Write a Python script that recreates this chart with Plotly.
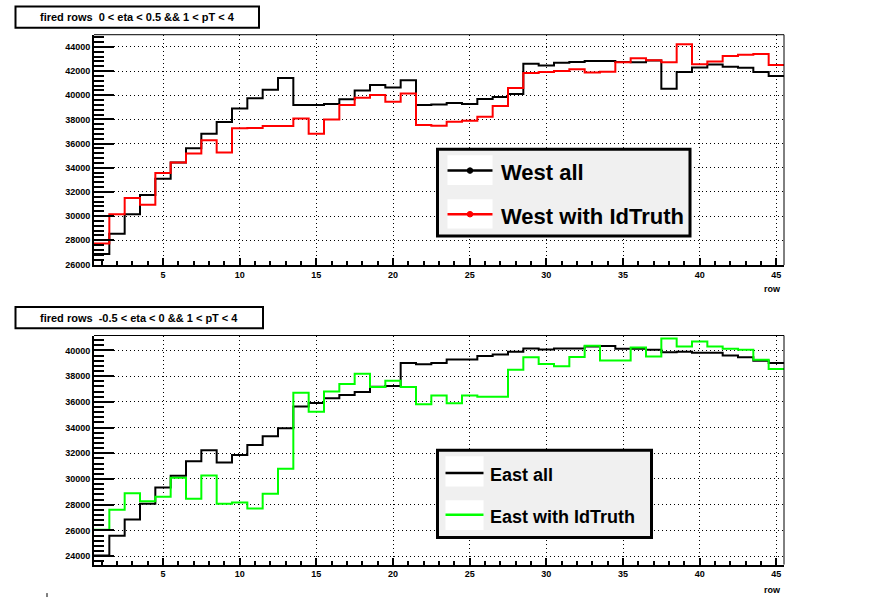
import plotly.graph_objects as go

rows = list(range(1, 46))

west_all = [26860, 28540, 30160, 31755, 33100, 34435, 35620, 36816, 37780, 38900,
            39755, 40462, 41430, 39200, 39200, 39280, 39670, 40400, 40840, 40650,
            41250, 39190, 39240, 39350, 39270, 39700, 39860, 40110, 42600, 42460,
            42680, 42760, 42840, 42840, 42760, 42730, 42870, 40530, 41920, 42300,
            42540, 42350, 42270, 41920, 41590]
west_idtruth = [27730, 30160, 31510, 30940, 33565, 34435, 35180, 36272, 35270, 37266,
                37300, 37460, 37460, 38080, 36820, 38000, 39200, 39800, 40030, 39460,
                40140, 37550, 37480, 37800, 37890, 38220, 39120, 40600, 41840, 41920,
                42000, 42160, 41890, 41950, 42730, 43060, 42900, 42730, 44220, 42570,
                42790, 43250, 43360, 43410, 42510]
east_all = [24050, 25590, 26840, 28080, 29330, 30260, 31380, 32230, 31280, 31870,
            32650, 33330, 33950, 35640, 35920, 36280, 36540, 36770, 37180, 37240,
            39030, 38920, 39030, 39300, 39300, 39560, 39690, 39900, 40150, 40080,
            40150, 40150, 40310, 40340, 40130, 40130, 40050, 39850, 39900, 39820,
            39820, 39610, 39460, 39200, 39020]
east_idtruth = [26050, 27610, 28900, 28260, 28620, 30100, 28470, 30280, 28080, 28180,
                27700, 28850, 30800, 36700, 35230, 36800, 37390, 38180, 37160, 37650,
                37160, 35820, 36490, 35900, 36490, 36390, 36390, 38490, 39460, 38950,
                38770, 39480, 40360, 39220, 39220, 40230, 39530, 40930, 40310, 40700,
                40310, 40130, 40050, 39270, 38550]

top_title = "fired rows\u00a0\u00a00 < eta < 0.5 && 1 < pT < 4"
bot_title = "fired rows\u00a0\u00a0-0.5 < eta < 0 && 1 < pT < 4"
top_names = ["West all", "West with IdTruth"]
bot_names = ["East all", "East with IdTruth"]
x_title = "row"

W, H = 879, 607
def px(x):
    return x / W
def py(y):
    return 1 - y / H

def steps(vals):
    xe = [r - 0.5 for r in rows] + [rows[-1] + 0.5]
    ye = list(vals) + [vals[-1]]
    return xe, ye

fig = go.Figure()
for vals, color, ax in [(west_all, "black", "1"), (west_idtruth, "#ff0000", "1"),
                        (east_all, "black", "2"), (east_idtruth, "#00ff00", "2")]:
    xe, ye = steps(vals)
    fig.add_trace(go.Scatter(x=xe, y=ye, mode="lines", line=dict(color=color, width=2, shape="hv"),
                             xaxis="x" + ("" if ax == "1" else "2"),
                             yaxis="y" + ("" if ax == "1" else "2"),
                             showlegend=False, hoverinfo="skip"))

tickfont = dict(family="Liberation Sans, Arial, sans-serif", size=9, color="black", weight="bold")

def xaxis_cfg(dom_anchor):
    return dict(domain=[px(94), px(784)], anchor=dom_anchor, range=[0.5, 45.5],
                tick0=0, dtick=5, ticks="inside", ticklen=7, tickwidth=2, tickcolor="black",
                showline=True, linewidth=2, linecolor="black", mirror=False,
                showgrid=True, gridcolor="black", gridwidth=1, griddash="1px,3px",
                zeroline=False, tickfont=tickfont,
                minor=dict(dtick=1, ticks="inside", ticklen=4, tickwidth=2, tickcolor="black", showgrid=False))

def yaxis_cfg(dom, rng, dom_anchor):
    return dict(domain=dom, anchor=dom_anchor, range=rng,
                tick0=0, dtick=2000, ticks="inside", ticklen=20, tickwidth=2, tickcolor="black",
                showline=True, linewidth=2, linecolor="black", mirror=False,
                showgrid=True, gridcolor="black", gridwidth=1, griddash="1px,3px",
                zeroline=False, tickfont=tickfont, tickformat="d",
                minor=dict(dtick=400, ticks="inside", ticklen=10, tickwidth=2, tickcolor="black", showgrid=False))

fig.update_layout(
    width=W, height=H, autosize=False,
    margin=dict(l=0, r=0, t=0, b=0),
    paper_bgcolor="white", plot_bgcolor="white",
    xaxis=xaxis_cfg("y"),
    yaxis=yaxis_cfg([py(267.3), py(35)], [25950, 45010], "x"),
    xaxis2=xaxis_cfg("y2"),
    yaxis2=yaxis_cfg([py(569.3), py(338.3)], [23340, 41160], "x2"),
)

shapes = []
annotations = []

# frame (top and right thin borders)
for (t, b) in [(35, 267.3), (338.3, 569.3)]:
    shapes.append(dict(type="line", xref="paper", yref="paper", x0=px(94), x1=px(784), y0=py(t), y1=py(t),
                       line=dict(color="black", width=1)))
    shapes.append(dict(type="line", xref="paper", yref="paper", x0=px(784), x1=px(784), y0=py(t), y1=py(b),
                       line=dict(color="black", width=1)))

# title boxes
for (x0, x1, y0, y1, txt) in [(15.5, 259, 6.5, 28, top_title), (15.5, 263, 309.5, 331, bot_title)]:
    shapes.append(dict(type="rect", xref="paper", yref="paper", x0=px(x0), x1=px(x1), y0=py(y1), y1=py(y0),
                       line=dict(color="black", width=2), fillcolor="white"))
    annotations.append(dict(text=txt, xref="paper", yref="paper", x=px((x0 + x1) / 2), y=py((y0 + y1) / 2),
                            showarrow=False, xanchor="center", yanchor="middle",
                            font=dict(family="Liberation Sans, Arial, sans-serif", size=11, color="black", weight="bold")))

# legends
def legend(box, samples, names, colors, size, markers):
    x0, x1, y0, y1 = box
    shapes.append(dict(type="rect", xref="paper", yref="paper", x0=px(x0), x1=px(x1), y0=py(y1), y1=py(y0),
                       line=dict(color="black", width=3), fillcolor="#f0f0f0", layer="above"))
    for (sx0, sx1, sy0, sy1, ly, tx), name, col in zip(samples, names, colors):
        shapes.append(dict(type="rect", xref="paper", yref="paper", x0=px(sx0), x1=px(sx1), y0=py(sy1), y1=py(sy0),
                           line=dict(width=0), fillcolor="white", layer="above"))
        shapes.append(dict(type="line", xref="paper", yref="paper", x0=px(sx0), x1=px(sx1), y0=py(ly), y1=py(ly),
                           line=dict(color=col, width=2.5), layer="above"))
        if markers:
            cx = (sx0 + sx1) / 2
            shapes.append(dict(type="circle", xref="paper", yref="paper", x0=px(cx - 2.8), x1=px(cx + 2.8),
                               y0=py(ly + 2.8), y1=py(ly - 2.8), line=dict(color=col, width=1),
                               fillcolor=col, layer="above"))
        annotations.append(dict(text=name, xref="paper", yref="paper", x=px(tx), y=py(ly + 2),
                                showarrow=False, xanchor="left", yanchor="middle",
                                font=dict(family="Liberation Sans, Arial, sans-serif", size=size, color="black",
                                          weight="bold")))

legend((437.5, 690, 150.5, 238),
       [(447.5, 492.5, 156.5, 186.5, 172, 499), (447.5, 492.5, 201, 230.5, 216, 499)],
       top_names, ["black", "#ff0000"], 22, True)
legend((437.5, 651.5, 454, 542),
       [(445.5, 483.5, 460, 490.5, 477, 488), (445.5, 483.5, 504.5, 534.5, 519, 488)],
       bot_names, ["black", "#00ff00"], 18, False)

# axis titles "row"
for y in [291, 595]:
    annotations.append(dict(text=x_title, xref="paper", yref="paper", x=px(783), y=py(y),
                            showarrow=False, xanchor="right", yanchor="middle",
                            font=dict(family="Liberation Sans, Arial, sans-serif", size=9, color="black", weight="bold")))

# small stray mark at bottom left
shapes.append(dict(type="line", xref="paper", yref="paper", x0=px(47), x1=px(47), y0=py(598), y1=py(602),
                   line=dict(color="black", width=1)))

fig.update_layout(shapes=shapes, annotations=annotations)
fig.write_html("out.html", config={"displayModeBar": False},
               post_script="document.body.style.margin='0';document.body.style.padding='0';")
